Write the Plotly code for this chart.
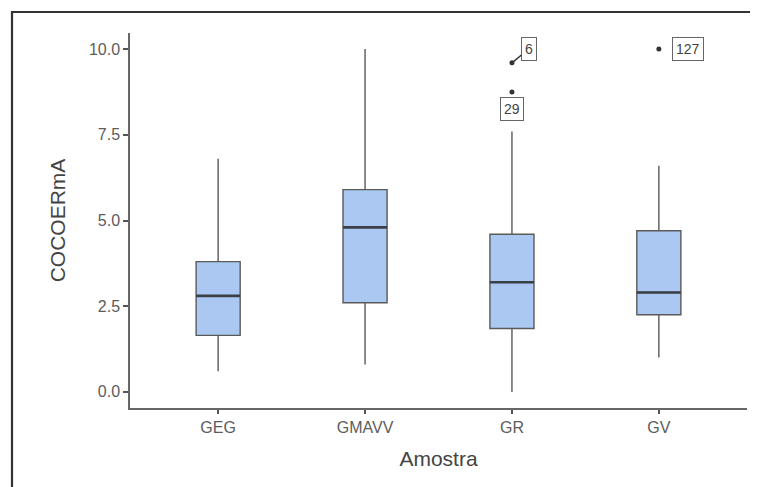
import plotly.graph_objects as go

categories = ["GEG", "GMAVV", "GR", "GV"]
q1 = [1.65, 2.6, 1.85, 2.25]
median = [2.8, 4.8, 3.2, 2.9]
q3 = [3.8, 5.9, 4.6, 4.7]
lower_whisker = [0.6, 0.8, 0.0, 1.0]
upper_whisker = [6.8, 10.0, 7.6, 6.6]

outlier_cat = ["GR", "GR", "GV"]
outlier_val = [9.6, 8.75, 10.0]
outlier_lbl = ["6", "29", "127"]

y_ticks = [0.0, 2.5, 5.0, 7.5, 10.0]

# page body has an 8px margin; compensate so the figure fills the 758x487 window
OFF = 8
W, H = 758 - OFF, 487 - OFF
ML, MR, MT, MB = 130 - OFF, 11, 33 - OFF, 79

fig = go.Figure()
fig.add_trace(go.Box(
    x=categories, q1=q1, median=median, q3=q3,
    lowerfence=lower_whisker, upperfence=upper_whisker,
    fillcolor="#abc8f2", line=dict(color="#5a5a5a", width=1.4),
    whiskerwidth=0, width=0.3, boxpoints=False, showlegend=False,
    hoverinfo="skip"))
# darker median line
fig.add_trace(go.Box(
    x=categories, q1=median, median=median, q3=median,
    lowerfence=median, upperfence=median,
    fillcolor="rgba(0,0,0,0)", line=dict(color="#3b3f48", width=2.6),
    whiskerwidth=0, width=0.3, boxpoints=False, showlegend=False,
    hoverinfo="skip"))
fig.add_trace(go.Scatter(
    x=outlier_cat, y=outlier_val, mode="markers",
    marker=dict(color="#333333", size=5), showlegend=False, hoverinfo="skip"))

font_lbl = dict(family="Liberation Sans, Arial, sans-serif", size=14, color="#444444")
box_style = dict(bordercolor="#666666", borderwidth=1, bgcolor="white", borderpad=3)
fig.add_annotation(x=outlier_cat[0], y=outlier_val[0], text=outlier_lbl[0],
                   showarrow=True, arrowhead=0, arrowwidth=1.5, arrowcolor="#333333",
                   ax=17, ay=-14, font=font_lbl, standoff=0, **box_style)
fig.add_annotation(x=outlier_cat[1], y=outlier_val[1], text=outlier_lbl[1],
                   showarrow=False, yshift=-17, font=font_lbl, **box_style)
fig.add_annotation(x=outlier_cat[2], y=outlier_val[2], text=outlier_lbl[2],
                   showarrow=False, xshift=29, font=font_lbl, **box_style)

# outer frame (left and top edges)
pw = W - ML - MR
ph = H - MT - MB
x_left = (12 - OFF - ML) / pw
x_right = (W + 5 - ML) / pw
y_top = (H - MB - (12 - OFF)) / ph
y_bot = (H - MB - H - 5) / ph
fig.add_shape(type="path", xref="paper", yref="paper",
              path=f"M {x_left} {y_bot} L {x_left} {y_top} L {x_right} {y_top}",
              line=dict(color="#333333", width=2.2))

axis_font = dict(family="Liberation Sans, Arial, sans-serif", size=16, color="#5c5c5c")
title_font = dict(family="Liberation Sans, Arial, sans-serif", size=21, color="#444444")

fig.update_layout(
    width=W, height=H,
    margin=dict(l=ML, r=MR, t=MT, b=MB),
    plot_bgcolor="white", paper_bgcolor="white",
    xaxis=dict(
        type="category", categoryorder="array", categoryarray=categories,
        range=[-0.6, 3.6], showline=True, linecolor="#666666", linewidth=1.5,
        ticks="outside", ticklen=4, tickcolor="#555555", tickwidth=1.5,
        tickfont=axis_font, showgrid=False, zeroline=False,
        title=dict(text="Amostra", font=title_font, standoff=16)),
    yaxis=dict(
        range=[-0.47, 10.47], tickvals=y_ticks,
        ticktext=[f"{v:.1f}" for v in y_ticks],
        showline=True, linecolor="#666666", linewidth=1.5,
        ticks="outside", ticklen=5, tickcolor="#555555", tickwidth=1.5,
        tickfont=axis_font, showgrid=False, zeroline=False,
        title=dict(text="COCOERmA", font=title_font, standoff=18)),
)

fig.write_html("out.html")
